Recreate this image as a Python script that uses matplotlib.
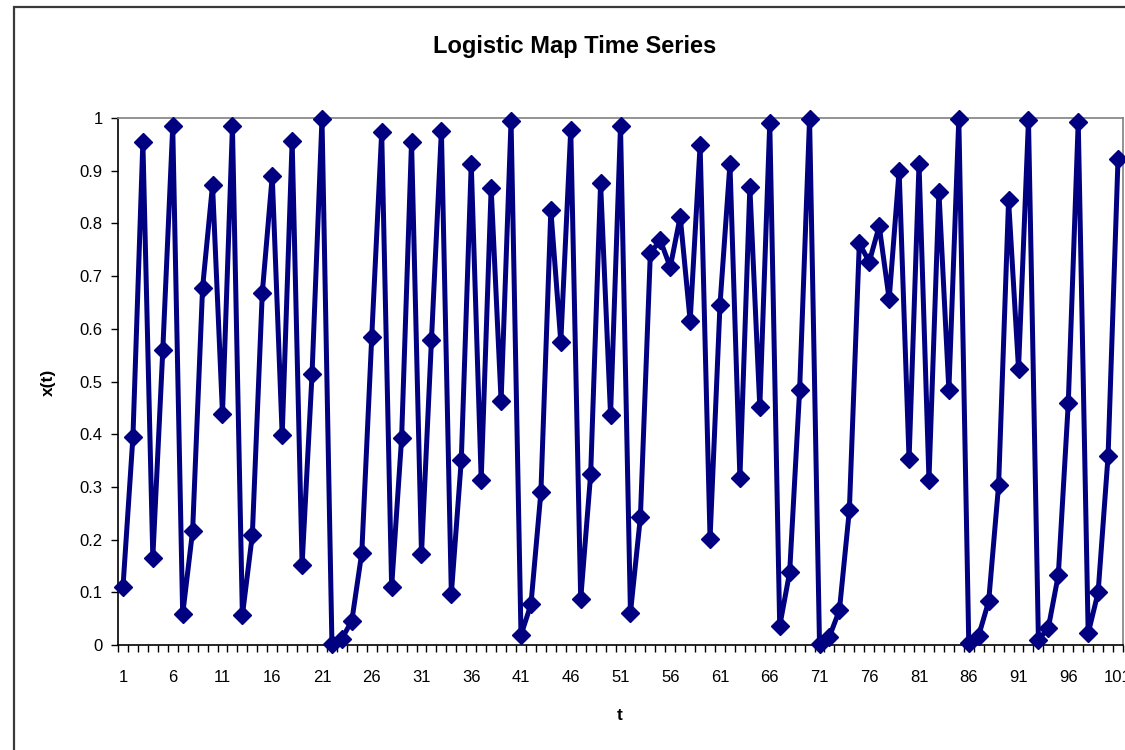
import matplotlib.pyplot as plt
from matplotlib.patches import Rectangle

# logistic map values, t = 1..101
t = list(range(1, 102))
x_t = [
    0.110, 0.395, 0.955, 0.166, 0.559, 0.984, 0.058, 0.217, 0.678, 0.873,
    0.439, 0.984, 0.056, 0.209, 0.668, 0.890, 0.398, 0.957, 0.152, 0.514,
    0.999, 0.002, 0.012, 0.046, 0.175, 0.585, 0.973, 0.110, 0.392, 0.955,
    0.173, 0.578, 0.976, 0.097, 0.351, 0.913, 0.314, 0.867, 0.463, 0.995,
    0.019, 0.077, 0.290, 0.825, 0.575, 0.978, 0.087, 0.324, 0.876, 0.436,
    0.984, 0.061, 0.243, 0.744, 0.768, 0.717, 0.813, 0.615, 0.949, 0.202,
    0.646, 0.913, 0.317, 0.869, 0.451, 0.991, 0.036, 0.138, 0.483, 0.999,
    0.002, 0.016, 0.066, 0.256, 0.762, 0.727, 0.795, 0.656, 0.900, 0.352,
    0.913, 0.314, 0.860, 0.483, 0.999, 0.004, 0.018, 0.083, 0.304, 0.844,
    0.524, 0.996, 0.009, 0.033, 0.133, 0.459, 0.993, 0.022, 0.100, 0.359,
    0.923,
]
x_tick_labels = [str(v) for v in range(1, 102, 5)]
y_ticks = [0, 0.1, 0.2, 0.3, 0.4, 0.5, 0.6, 0.7, 0.8, 0.9, 1]
y_tick_labels = ["0", "0.1", "0.2", "0.3", "0.4", "0.5", "0.6", "0.7", "0.8", "0.9", "1"]

plt.rcParams["font.family"] = ["Liberation Sans", "DejaVu Sans"]

fig = plt.figure(figsize=(11.25, 7.5), dpi=100)

# outer chart border (cropped on the right and bottom like the reference)
fig.patches.append(Rectangle((14 / 1125, -0.1), 1.2, (743 / 750) + 0.1,
                             transform=fig.transFigure, fill=False,
                             edgecolor="#3a3a3a", linewidth=1.6, clip_on=False))

ax = fig.add_axes([118 / 1125, 105 / 750, 1005 / 1125, 527 / 750])

ax.plot(t, x_t, color="#000080", linewidth=3.6, marker="D", markersize=9.5,
        markerfacecolor="#000080", markeredgecolor="#000080", clip_on=False, zorder=3)

ax.set_xlim(0.5, 101.5)
ax.set_ylim(0, 1)

ax.set_xticks(list(range(1, 102, 5)))
ax.set_xticklabels(x_tick_labels, fontsize=12)
ax.set_xticks([v + 0.5 for v in range(0, 102)], minor=True)
ax.tick_params(axis="x", which="major", length=0, pad=18)
ax.tick_params(axis="x", which="minor", length=5, width=1, direction="out", color="black")

ax.set_yticks(y_ticks)
ax.set_yticklabels(y_tick_labels, fontsize=12)
ax.tick_params(axis="y", which="major", length=5, width=1, direction="out", pad=6)

for side in ["left", "bottom"]:
    ax.spines[side].set_color("black")
    ax.spines[side].set_linewidth(1.2)
for side in ["top", "right"]:
    ax.spines[side].set_color("#808080")
    ax.spines[side].set_linewidth(1.2)

fig.text(575 / 1125, 1 - 46 / 750, "Logistic Map Time Series", ha="center", va="center",
         fontsize=17, fontweight="bold")
fig.text(620 / 1125, 1 - 716 / 750, "t", ha="center", va="center",
         fontsize=12.5, fontweight="bold")
fig.text(48 / 1125, 1 - 382 / 750, "x(t)", ha="center", va="center", rotation=90,
         fontsize=12.5, fontweight="bold")

plt.savefig("out.png", dpi=100)
plt.close()
